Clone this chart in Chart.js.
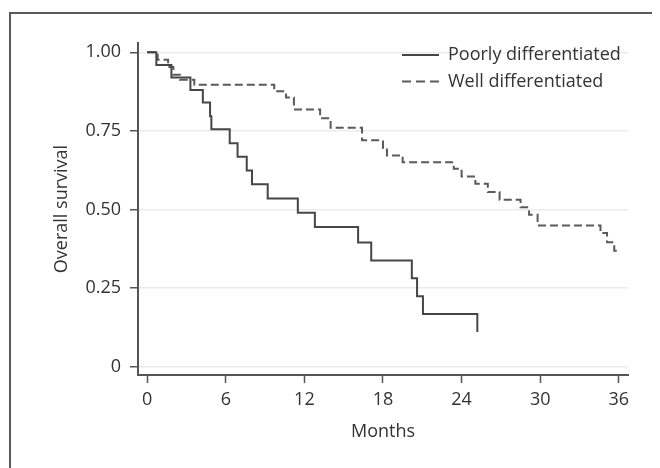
<!DOCTYPE html>
<html>
<head>
<meta charset="utf-8">
<script src="https://cdn.jsdelivr.net/npm/chart.js@4/dist/chart.umd.min.js"></script>
<style>
  html, body { margin: 0; padding: 0; background: #fff; }
  #wrap { position: relative; width: 660px; height: 468px; overflow: hidden; }
  #frame { position: absolute; left: 9px; top: 12px; width: 641px; height: 470px;
           border-top: 2px solid #5a5a5a; border-left: 2px solid #5a5a5a; }
  #km { position: absolute; left: 0; top: 0; }
</style>
</head>
<body>
<div id="wrap">
  <div id="frame"></div>
  <canvas id="km" width="660" height="468"></canvas>
</div>
<script>
/* Kaplan-Meier: overall survival by differentiation */
const poorlyMonths = [0, 0.7, 1.85, 3.3, 4.25, 4.8, 4.9, 6.3, 6.9, 7.6, 8.0, 9.2, 11.5, 12.8, 16.1, 17.1, 20.2, 20.6, 21.05, 25.2];
const poorlySurv   = [1, 0.96, 0.92, 0.88, 0.84, 0.797, 0.755, 0.711, 0.668, 0.624, 0.58, 0.535, 0.49, 0.444, 0.395, 0.338, 0.281, 0.224, 0.168, 0.11];

const wellMonths = [0, 0.8, 1.6, 2.0, 2.5, 3.6, 9.7, 10.6, 11.2, 13.2, 14.0, 16.4, 18.0, 18.3, 19.5, 23.4, 24.0, 25.05, 26.0, 26.9, 28.5, 29.15, 29.8, 34.6, 35.1, 35.65, 35.9];
const wellSurv   = [1, 0.976, 0.953, 0.929, 0.913, 0.897, 0.876, 0.856, 0.818, 0.79, 0.76, 0.72, 0.696, 0.672, 0.65, 0.63, 0.605, 0.582, 0.556, 0.531, 0.507, 0.483, 0.449, 0.425, 0.396, 0.369, 0.369];

const seriesLabels = ['Poorly differentiated', 'Well differentiated'];
const xTicks = [0, 6, 12, 18, 24, 30, 36];
const yTicks = [0, 0.25, 0.5, 0.75, 1];
const yTickLabels = ['0', '0.25', '0.50', '0.75', '1.00'];

const FONT = "'Open Sans', 'Noto Sans', sans-serif";
const INK = '#333';

function toPoints(xs, ys) { return xs.map((x, i) => ({ x: x, y: ys[i] })); }

// legend drawn inside the plot, top right, with line samples
const insideLegend = {
  id: 'insideLegend',
  afterDraw(chart) {
    const { ctx, chartArea } = chart;
    const x0 = chartArea.left + 264, x1 = x0 + 37, tx = x1 + 9;
    const rows = [chartArea.top + 12, chartArea.top + 38.5];
    ctx.save();
    ctx.font = '18px ' + FONT;
    ctx.fillStyle = INK;
    ctx.textBaseline = 'middle';
    chart.data.datasets.forEach((ds, i) => {
      const y = rows[i];
      ctx.beginPath();
      ctx.setLineDash(i === 1 ? [9, 5] : []);
      ctx.strokeStyle = ds.borderColor;
      ctx.lineWidth = 2;
      ctx.moveTo(x0, y); ctx.lineTo(x1, y);
      ctx.stroke();
      ctx.setLineDash([]);
      ctx.fillText(ds.label, tx, y);
    });
    ctx.restore();
  }
};

new Chart(document.getElementById('km').getContext('2d'), {
  type: 'scatter',
  data: {
    datasets: [
      { label: seriesLabels[0], data: toPoints(poorlyMonths, poorlySurv), showLine: true, stepped: true,
        borderColor: '#464646', borderWidth: 2, pointRadius: 0, fill: false },
      { label: seriesLabels[1], data: toPoints(wellMonths, wellSurv), showLine: true, stepped: true,
        borderColor: '#5a5a5a', borderWidth: 2, borderDash: [8, 4], pointRadius: 0, fill: false },
    ]
  },
  options: {
    responsive: false, animation: false,
    layout: { padding: { top: 43, right: 32, left: 0, bottom: 0 } },
    plugins: { legend: { display: false }, tooltip: { enabled: false } },
    scales: {
      x: {
        type: 'linear', min: -0.7, max: 36.7,
        afterBuildTicks: (s) => { s.ticks = xTicks.map(v => ({ value: v })); },
        afterFit: (s) => { s.height = 93; },
        ticks: { color: INK, font: { family: FONT, size: 18 }, padding: 6, autoSkip: false, maxRotation: 0 },
        grid: { drawOnChartArea: false, tickLength: 8, tickColor: '#555', tickWidth: 1.5 },
        border: { color: '#555', width: 2 },
        title: { display: true, text: 'Months', color: INK, font: { family: FONT, size: 18 }, padding: { top: 0, bottom: 25 } },
      },
      y: {
        type: 'linear', min: -0.0264, max: 1.0296,
        afterBuildTicks: (s) => { s.ticks = yTicks.map(v => ({ value: v })); },
        afterFit: (s) => { s.width = 138; },
        ticks: { color: INK, font: { family: FONT, size: 18 }, padding: 9, autoSkip: false,
                 callback: (v, i) => yTickLabels[i] },
        grid: { color: '#ebebeb', lineWidth: 1.5, tickLength: 8, tickColor: '#555', tickWidth: 1.5 },
        border: { color: '#555', width: 2 },
        title: { display: true, text: 'Overall survival', color: INK, font: { family: FONT, size: 18 }, padding: { top: 51, bottom: 0 } },
      },
    },
  },
  plugins: [insideLegend],
});
</script>
</body>
</html>
